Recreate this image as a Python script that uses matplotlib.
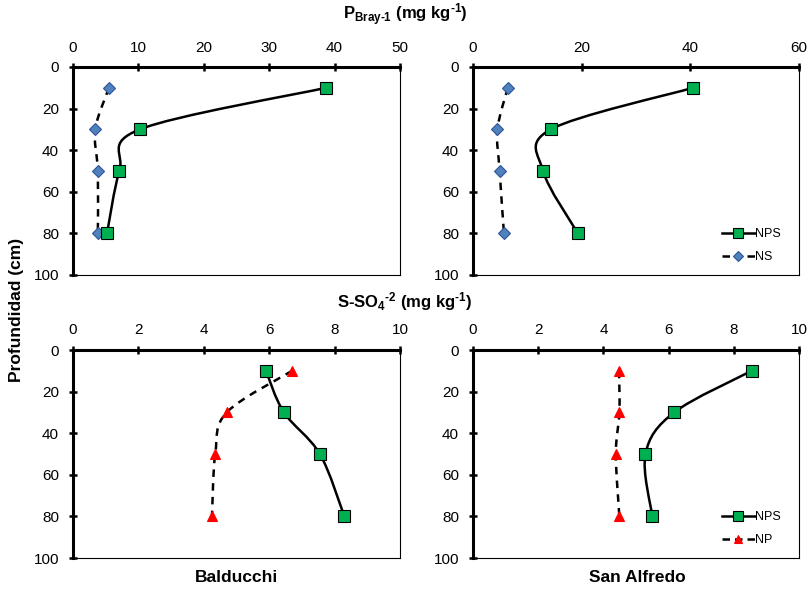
import numpy as np
import matplotlib
matplotlib.use('Agg')
import matplotlib.pyplot as plt
from matplotlib.path import Path
from matplotlib.patches import PathPatch
from matplotlib.lines import Line2D

plt.rcParams['font.family'] = ['Liberation Sans', 'DejaVu Sans']
plt.rcParams['mathtext.fontset'] = 'custom'
plt.rcParams['mathtext.rm'] = 'Liberation Sans'
plt.rcParams['mathtext.bf'] = 'Liberation Sans:bold'
plt.rcParams['mathtext.it'] = 'Liberation Sans:italic'

# Profundidad de muestreo (cm)
depth = [10, 30, 50, 80]

# P Bray-1 (mg kg-1)
p_bal_nps = [38.7, 10.2, 7.1, 5.2]
p_bal_ns = [5.5, 3.4, 3.8, 3.8]
p_sa_nps = [40.5, 14.3, 12.9, 19.3]
p_sa_ns = [6.4, 4.5, 4.9, 5.7]

# S-SO4 (mg kg-1)
s_bal_nps = [5.9, 6.45, 7.55, 8.3]
s_bal_np = [6.7, 4.7, 4.35, 4.25]
s_sa_nps = [8.55, 6.17, 5.29, 5.5]
s_sa_np = [4.48, 4.49, 4.38, 4.49]

GREEN = '#00B050'
BLUE = '#4F81BD'
RED = '#FF0000'
HY = '\u2010'  # guion corto (no signo menos)


def smooth_path(x, y):
    # curva suavizada estilo Excel (Catmull-Rom -> Bezier)
    pts = np.column_stack([x, y]).astype(float)
    n = len(pts)
    verts = [pts[0]]
    codes = [Path.MOVETO]
    for i in range(n - 1):
        p0 = pts[i - 1] if i > 0 else pts[i]
        p1 = pts[i]
        p2 = pts[i + 1]
        p3 = pts[i + 2] if i + 2 < n else pts[i + 1]
        c1 = p1 + (p2 - p0) / 6.0
        c2 = p2 - (p3 - p1) / 6.0
        verts += [c1, c2, p2]
        codes += [Path.CURVE4] * 3
    return Path(verts, codes)


def serie(ax, x, y, ls, marker, color, ms, mec):
    ax.add_patch(PathPatch(smooth_path(x, y), fill=False, lw=1.8,
                           ls=ls, ec='black', zorder=3))
    ax.plot(x, y, ls='none', marker=marker, ms=ms, mfc=color, mec=mec,
            mew=0.8, zorder=4)


def estilo(ax, xmax, xstep):
    ax.set_xlim(0, xmax)
    ax.set_ylim(100, 0)
    ax.set_xticks(np.arange(0, xmax + 0.1, xstep))
    ax.set_yticks(np.arange(0, 101, 20))
    ax.xaxis.tick_top()
    ax.tick_params(direction='inout', length=6, width=1.8, labelsize=11)
    ax.tick_params(axis='x', pad=6)
    ax.tick_params(axis='y', pad=7)
    for s in ['top', 'left']:
        ax.spines[s].set_linewidth(2.2)
    for s in ['bottom', 'right']:
        ax.spines[s].set_linewidth(0.8)


fig = plt.figure(figsize=(8.1, 5.9), dpi=100)
W, H = 810, 590
ax_tl = fig.add_axes([73 / W, 1 - 275 / H, 327 / W, 208 / H])
ax_tr = fig.add_axes([473 / W, 1 - 275 / H, 326 / W, 208 / H])
ax_bl = fig.add_axes([73 / W, 1 - 558 / H, 327 / W, 208 / H])
ax_br = fig.add_axes([473 / W, 1 - 558 / H, 326 / W, 208 / H])

dash = (0, (3, 2.5))
serie(ax_tl, p_bal_ns, depth, dash, 'D', BLUE, 6, '#2F5597')
serie(ax_tl, p_bal_nps, depth, '-', 's', GREEN, 8.5, 'black')
estilo(ax_tl, 50, 10)

serie(ax_tr, p_sa_ns, depth, dash, 'D', BLUE, 6, '#2F5597')
serie(ax_tr, p_sa_nps, depth, '-', 's', GREEN, 8.5, 'black')
estilo(ax_tr, 60, 20)

serie(ax_bl, s_bal_np, depth, dash, '^', RED, 7, RED)
serie(ax_bl, s_bal_nps, depth, '-', 's', GREEN, 8.5, 'black')
estilo(ax_bl, 10, 2)

serie(ax_br, s_sa_np, depth, dash, '^', RED, 7, RED)
serie(ax_br, s_sa_nps, depth, '-', 's', GREEN, 8.5, 'black')
estilo(ax_br, 10, 2)

# leyendas
h_nps = Line2D([], [], color='black', lw=1.8, marker='s', ms=7, mfc=GREEN,
               mec='black', mew=0.8)
h_ns = Line2D([], [], color='black', lw=1.8, ls=(0, (3, 2)), marker='D',
              ms=5, mfc=BLUE, mec='#2F5597', mew=0.8)
h_np = Line2D([], [], color='black', lw=1.8, ls=(0, (3, 2)), marker='^',
              ms=6, mfc=RED, mec=RED, mew=0.8)
for ax, h2, l2 in [(ax_tr, h_ns, 'NS'), (ax_br, h_np, 'NP')]:
    ax.legend([h_nps, h2], ['NPS', l2], loc='lower right', frameon=False,
              fontsize=9, handlelength=2.6, handletextpad=0.05,
              borderaxespad=0.0, borderpad=0.0, labelspacing=0.85,
              bbox_to_anchor=(1 - 18 / 326, 12 / 208))

titulo_p = ('P$_{\\mathbf{Bray' + HY + '1}}$ (mg kg$^{\\mathbf{' + HY +
            '1}}$)')
titulo_s = ('S-SO$_{\\mathbf{4}}$$^{\\mathbf{' + HY + '2}}$ (mg kg$^{\\mathbf{'
            + HY + '1}}$)')
fig.text(405 / W, 1 - 15 / H, titulo_p, ha='center', va='center',
         fontsize=12, fontweight='bold')
fig.text(405 / W, 1 - 302 / H, titulo_s, ha='center', va='center',
         fontsize=12, fontweight='bold')
fig.text(17 / W, 1 - 310 / H, 'Profundidad (cm)', rotation=90,
         ha='center', va='center', fontsize=12.5, fontweight='bold')
fig.text(237 / W, 1 - 577 / H, 'Balducchi', ha='center', va='center',
         fontsize=12.5, fontweight='bold')
fig.text(637 / W, 1 - 577 / H, 'San Alfredo', ha='center', va='center',
         fontsize=12.5, fontweight='bold')

fig.savefig('out.png', dpi=100)
